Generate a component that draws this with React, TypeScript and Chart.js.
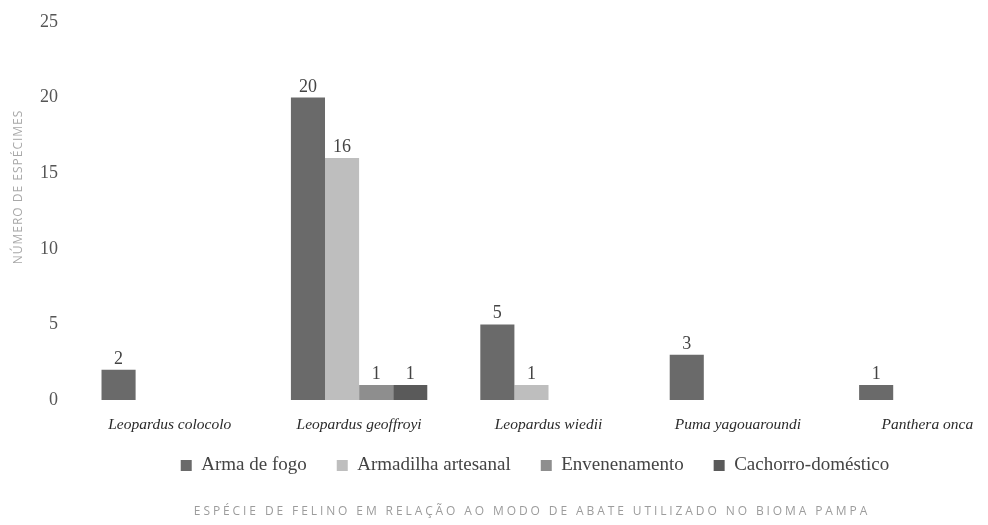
import React, { useEffect, useRef } from "react";
import { Chart, registerables } from "chart.js";

Chart.register(...registerables);

const categories = [
  "Leopardus colocolo",
  "Leopardus geoffroyi",
  "Leopardus wiedii",
  "Puma yagouaroundi",
  "Panthera onca",
];
const seriesNames = ["Arma de fogo", "Armadilha artesanal", "Envenenamento", "Cachorro-doméstico"];
const armaDeFogo = [2, 20, 5, 3, 1];
const armadilhaArtesanal = [0, 16, 1, 0, 0];
const envenenamento = [0, 1, 0, 0, 0];
const cachorroDomestico = [0, 1, 0, 0, 0];
const seriesColors = ["#6a6a6a", "#bebebe", "#8e8e8e", "#5a5a5a"];
const yTicks = [0, 5, 10, 15, 20, 25];
const yTitle = "NÚMERO DE ESPÉCIMES";
const xTitle = "ESPÉCIE DE FELINO EM RELAÇÃO AO MODO DE ABATE UTILIZADO NO BIOMA PAMPA";

const SERIF = "'Liberation Serif', 'DejaVu Serif', serif";
const SANS = "'Open Sans', 'Noto Sans', sans-serif";

const valueLabels = {
  id: "valueLabels",
  afterDatasetsDraw(chart: any) {
    const ctx = chart.ctx;
    ctx.save();
    ctx.font = `18px ${SERIF}`;
    ctx.fillStyle = "#444";
    ctx.textAlign = "center";
    ctx.textBaseline = "alphabetic";
    chart.data.datasets.forEach((ds: any, i: number) => {
      const meta = chart.getDatasetMeta(i);
      meta.data.forEach((bar: any, j: number) => {
        const v = ds.data[j];
        if (v > 0) ctx.fillText(String(v), bar.x, bar.y - 6);
      });
    });
    ctx.restore();
  },
};

const axisTitles = {
  id: "axisTitles",
  afterDraw(chart: any) {
    const ctx = chart.ctx;
    const area = chart.chartArea;
    ctx.save();
    ctx.fillStyle = "#9c9c9c";
    ctx.textAlign = "center";
    ctx.textBaseline = "middle";
    ctx.font = `12px ${SANS}`;
    (ctx as any).letterSpacing = "2.9px";
    ctx.fillText(xTitle, 532, 512);
    ctx.translate(19, (area.top + area.bottom) / 2 - 24);
    ctx.rotate(-Math.PI / 2);
    (ctx as any).letterSpacing = "1px";
    ctx.fillStyle = "#a8a8a8";
    ctx.fillText(yTitle, 0, 0);
    ctx.restore();
  },
};

const noLabelClip = (s: any) => {
  s._computeLabelArea = () => undefined;
};

export default function App() {
  const ref = useRef<HTMLCanvasElement>(null);
  useEffect(() => {
    if (!ref.current) return;
    const seriesData = [armaDeFogo, armadilhaArtesanal, envenenamento, cachorroDomestico];
    const chart = new Chart(ref.current, {
      type: "bar",
      data: {
        labels: categories,
        datasets: seriesNames.map((name, i) => ({
          label: name,
          data: seriesData[i],
          backgroundColor: seriesColors[i],
          borderWidth: 0,
          categoryPercentage: 0.72,
          barPercentage: 1.0,
        })),
      },
      options: {
        responsive: false,
        animation: false,
        devicePixelRatio: 1,
        layout: { padding: { top: 22, right: 92, bottom: 40, left: 48 } },
        scales: {
          x: {
            grid: { display: false, drawTicks: false },
            border: { display: false },
            ticks: {
              font: { family: SERIF, size: 15.5, style: "italic" },
              color: "#2a2a2a",
              padding: 16,
              maxRotation: 0,
              autoSkip: false,
            },
            afterFit: (s: any) => {
              s.height = 26;
              noLabelClip(s);
            },
          },
          y: {
            min: 0,
            max: 25,
            afterBuildTicks: (s: any) => {
              s.ticks = yTicks.map((v) => ({ value: v }));
            },
            grid: { display: false, drawTicks: false },
            border: { display: false },
            ticks: {
              font: { family: SERIF, size: 18 },
              color: "#555",
              padding: 17,
            },
            afterFit: (s: any) => {
              s.width = 27;
              s.paddingTop = 0;
              s.paddingBottom = 0;
              noLabelClip(s);
            },
          },
        },
        plugins: {
          legend: {
            position: "bottom",
            labels: {
              font: { family: SERIF, size: 19 },
              color: "#444",
              boxWidth: 11,
              boxHeight: 11,
              padding: 30,
            },
          },
          tooltip: { enabled: false },
        },
      },
      plugins: [valueLabels, axisTitles],
    });
    return () => chart.destroy();
  }, []);
  return (
    <div
      style={{
        position: "absolute",
        left: 0,
        top: 0,
        width: 988,
        height: 525,
        overflow: "hidden",
        background: "#fff",
      }}
    >
      <canvas ref={ref} width={1114} height={525} style={{ display: "block" }} />
    </div>
  );
}
